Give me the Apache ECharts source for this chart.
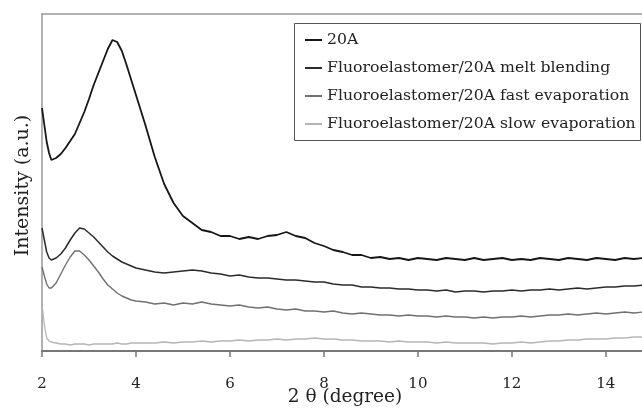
<!DOCTYPE html>
<html>
<head>
<meta charset="utf-8">
<script src="https://cdn.jsdelivr.net/npm/echarts@6/dist/echarts.min.js"></script>
<style>
  html, body { margin: 0; padding: 0; background: #fff; }
  #main { width: 642px; height: 413px; }
</style>
</head>
<body>
<div id="main"></div>
<script>
// 2 theta (degree)
var twoTheta = [2.0, 2.05, 2.1, 2.15, 2.2,
    2.3, 2.4, 2.5, 2.6, 2.7, 2.8, 2.9, 3.0, 3.1, 3.2, 3.3, 3.4, 3.5, 3.6, 3.7, 3.8, 3.9, 4.0,
    4.2, 4.4, 4.6, 4.8, 5.0, 5.2, 5.4, 5.6, 5.8, 6.0, 6.2, 6.4, 6.6, 6.8, 7.0, 7.2, 7.4, 7.6, 7.8, 8.0,
    8.2, 8.4, 8.6, 8.8, 9.0, 9.2, 9.4, 9.6, 9.8, 10.0, 10.2, 10.4, 10.6, 10.8, 11.0, 11.2, 11.4, 11.6,
    11.8, 12.0, 12.2, 12.4, 12.6, 12.8, 13.0, 13.2, 13.4, 13.6, 13.8, 14.0, 14.2, 14.4, 14.6, 14.8];

// intensities (a.u.), curves are offset vertically as in the figure
var clay20A = [243, 226, 209, 198, 191,
    193, 197, 203, 210, 217, 228, 239, 252, 266, 278, 290, 302, 311, 309, 300, 286, 271, 256,
    226, 194, 167, 148, 135, 128, 121, 119, 115, 115, 112, 114, 112, 115, 116, 119, 115, 113, 108, 105,
    101, 99, 96, 96, 93, 94, 92, 93, 91, 93, 92, 91, 93, 92, 91, 93, 91, 92,
    93, 91, 92, 91, 93, 92, 91, 93, 92, 91, 93, 92, 91, 93, 92, 93];
var meltBlending = [123, 111, 99, 93, 91,
    93, 97, 103, 111, 118, 123, 122, 118, 114, 109, 104, 99, 95, 92, 89, 87, 85, 83,
    81, 79, 78, 79, 80, 81, 80, 78, 77, 75, 76, 74, 73, 73, 72, 71, 71, 70, 69, 69,
    67, 66, 66, 64, 64, 63, 63, 62, 62, 61, 61, 60, 61, 59, 60, 60, 59, 60,
    60, 61, 60, 61, 61, 62, 61, 62, 63, 62, 63, 64, 64, 65, 65, 66];
var fastEvap = [84, 75, 67, 63, 63,
    68, 77, 86, 94, 100, 100, 96, 91, 85, 79, 72, 66, 62, 58, 55, 53, 51, 50,
    49, 47, 48, 46, 48, 47, 49, 47, 46, 45, 46, 44, 43, 44, 42, 41, 42, 40, 40, 39,
    40, 38, 37, 38, 37, 36, 36, 35, 36, 35, 35, 34, 35, 34, 34, 33, 34, 33,
    34, 34, 35, 34, 35, 36, 36, 37, 36, 37, 38, 37, 38, 39, 38, 39];
var slowEvap = [46, 26, 13, 10, 9,
    8, 7, 7, 6, 7, 7, 7, 6, 7, 7, 7, 7, 7, 8, 7, 7, 8, 8,
    8, 8, 9, 8, 9, 9, 10, 9, 10, 10, 11, 10, 11, 11, 12, 11, 12, 12, 13, 12,
    12, 11, 11, 10, 10, 10, 9, 10, 9, 9, 9, 8, 9, 8, 8, 8, 8, 7,
    8, 8, 9, 8, 9, 10, 10, 11, 11, 12, 12, 12, 13, 13, 14, 14];

var seriesNames = ['20A', 'Fluoroelastomer/20A melt blending',
    'Fluoroelastomer/20A fast evaporation', 'Fluoroelastomer/20A slow evaporation'];
var xTicks = [2, 4, 6, 8, 10, 12, 14];

function pairs(ys) {
    return twoTheta.map(function (x, i) { return [x, ys[i]]; });
}

var font = 'DejaVu Serif';
var myChart = echarts.init(document.getElementById('main'));
var option = {
    animation: false,
    backgroundColor: '#fff',
    grid: { left: 42, right: 0, top: 14, bottom: 62, outerBoundsMode: 'none', containLabel: false },
    legend: {
        data: seriesNames,
        orient: 'vertical',
        icon: 'rect',
        left: 305,
        top: 32,
        padding: 0,
        itemGap: 12,
        itemWidth: 17,
        itemHeight: 2,
        textStyle: { fontFamily: font, fontSize: 15.7, color: '#222', lineHeight: 16 }
    },
    graphic: [{
        type: 'rect',
        shape: { x: 294.5, y: 23.5, width: 346, height: 117 },
        style: { fill: 'none', stroke: '#555', lineWidth: 1 }
    }],
    xAxis: [{
        type: 'value',
        min: 2,
        max: 14.77,
        interval: 2,
        name: '2 θ (degree)',
        nameLocation: 'middle',
        nameGap: 37,
        nameMoveOverlap: false,
        nameTextStyle: { fontFamily: font, fontSize: 18.5, color: '#222', padding: [0, 0, 0, 6] },
        axisLine: { lineStyle: { color: '#777', width: 2 } },
        axisTick: { inside: false, length: 6, lineStyle: { color: '#777', width: 1.5 } },
        axisLabel: {
            margin: 26,
            showMaxLabel: false,
            fontFamily: font, fontSize: 15, color: '#222',
            formatter: function (v) { return xTicks.indexOf(v) >= 0 ? String(v) : ''; }
        },
        splitLine: { show: false }
    }, {
        type: 'value',
        position: 'top',
        min: 2,
        max: 14.77,
        axisLine: { lineStyle: { color: '#999', width: 1.5 } },
        axisTick: { show: false },
        axisLabel: { show: false },
        splitLine: { show: false }
    }],
    yAxis: {
        type: 'value',
        min: 0,
        max: 337,
        name: 'Intensity (a.u.)',
        nameLocation: 'middle',
        nameGap: 9,
        nameMoveOverlap: false,
        nameTextStyle: { fontFamily: font, fontSize: 19, color: '#222', padding: [0, 6, 0, 0] },
        axisLine: { show: true, lineStyle: { color: '#999', width: 1.5 } },
        axisTick: { show: false },
        axisLabel: { show: false },
        splitLine: { show: false }
    },
    series: [{
        name: seriesNames[0], type: 'line', xAxisIndex: 0, symbol: 'none',
        lineStyle: { color: '#161616', width: 1.8 }, itemStyle: { color: '#161616' },
        data: pairs(clay20A)
    }, {
        name: seriesNames[1], type: 'line', xAxisIndex: 0, symbol: 'none',
        lineStyle: { color: '#2b2b2b', width: 1.5 }, itemStyle: { color: '#2b2b2b' },
        data: pairs(meltBlending)
    }, {
        name: seriesNames[2], type: 'line', xAxisIndex: 0, symbol: 'none',
        lineStyle: { color: '#707070', width: 1.4 }, itemStyle: { color: '#707070' },
        data: pairs(fastEvap)
    }, {
        name: seriesNames[3], type: 'line', xAxisIndex: 0, symbol: 'none',
        lineStyle: { color: '#b5b5b5', width: 1.3 }, itemStyle: { color: '#b5b5b5' },
        data: pairs(slowEvap)
    }]
};
myChart.setOption(option);
</script>
</body>
</html>
